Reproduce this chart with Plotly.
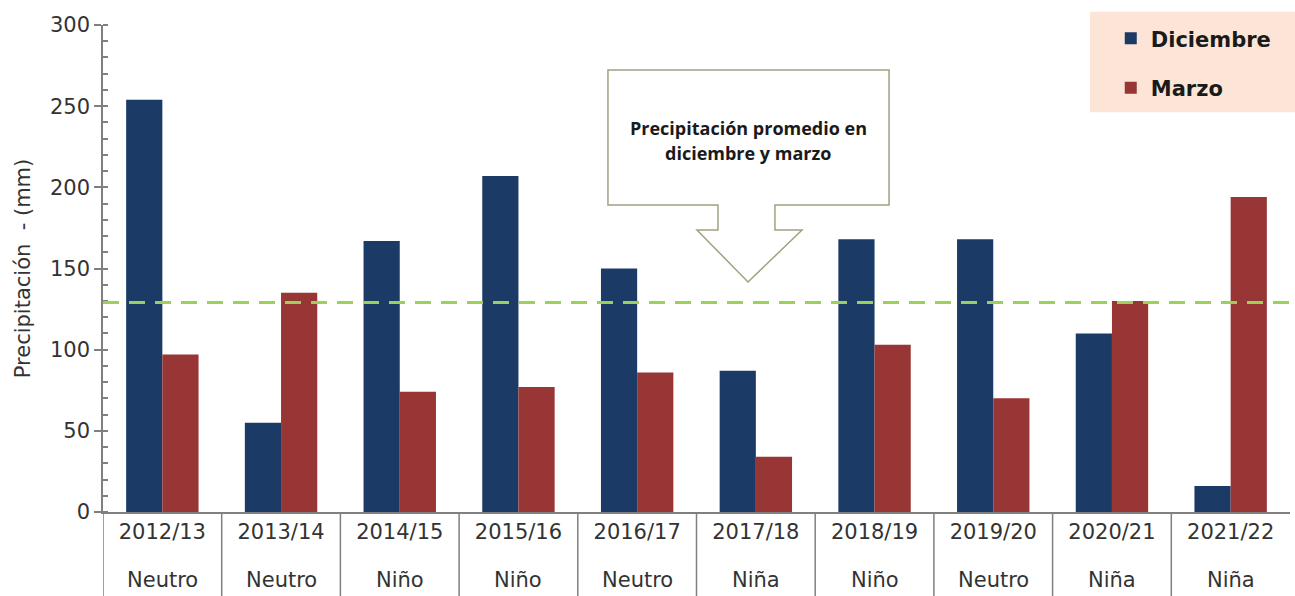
import plotly.graph_objects as go

temporadas = ["2012/13", "2013/14", "2014/15", "2015/16", "2016/17",
              "2017/18", "2018/19", "2019/20", "2020/21", "2021/22"]
fases = ["Neutro", "Neutro", "Niño", "Niño", "Neutro",
         "Niña", "Niño", "Neutro", "Niña", "Niña"]
diciembre = [254, 55, 167, 207, 150, 87, 168, 168, 110, 16]
marzo = [97, 135, 74, 77, 86, 34, 103, 70, 130, 194]
promedio = 129
y_ticks = [0, 50, 100, 150, 200, 250, 300]
callout_lines = ["Precipitación promedio en", "diciembre y marzo"]

x_idx = list(range(len(temporadas)))

C_DIC = "#1B3A66"
C_MAR = "#973634"
FONT = "DejaVu Sans"

fig = go.Figure()
fig.add_trace(go.Bar(x=x_idx, y=diciembre, name="Diciembre", marker_color=C_DIC,
                     marker_line_width=0, legendgroup="d"))
fig.add_trace(go.Bar(x=x_idx, y=marzo, name="Marzo", marker_color=C_MAR,
                     marker_line_width=0, legendgroup="m"))

shapes = []
# legend background
shapes.append(dict(type="rect", xref="paper", yref="paper",
                   x0=0.8315, x1=1.01, y0=0.821, y1=1.027,
                   fillcolor="#FCE5D6", line_width=0, layer="below"))
# average line
shapes.append(dict(type="line", xref="paper", yref="y", x0=0, x1=1,
                   y0=promedio, y1=promedio,
                   line=dict(color="#9BD05A", width=3, dash="16px,10px")))
# category separators below axis
for i in range(len(temporadas)):
    shapes.append(dict(type="line", xref="x", yref="paper",
                       x0=i - 0.5, x1=i - 0.5, y0=0, y1=-0.175,
                       line=dict(color="#808080", width=1.5)))

# callout arrow box (paper coords)
pts = [(0.4254, 0.9076), (0.6622, 0.9076), (0.6622, 0.6304),
       (0.5661, 0.6304), (0.5661, 0.5791), (0.5889, 0.5791),
       (0.5434, 0.4723), (0.5004, 0.5791), (0.5181, 0.5791),
       (0.5181, 0.6304), (0.4254, 0.6304)]
path = "M " + " L ".join(f"{x},{y}" for x, y in pts) + " Z"
shapes.append(dict(type="path", xref="paper", yref="paper", path=path,
                   fillcolor="white", line=dict(color="#A3A17F", width=1.5),
                   layer="above"))

annotations = []
for line, ypos in zip(callout_lines, [0.788, 0.738]):
    annotations.append(dict(xref="paper", yref="paper", x=0.5438, y=ypos,
                            xanchor="center", yanchor="middle",
                            text=line, showarrow=False,
                            font=dict(family="Open Sans", size=18, color="#1a1a1a",
                                      weight="bold")))
# second row of category labels (ENSO phase)
for i, f in zip(x_idx, fases):
    annotations.append(dict(xref="x", yref="paper", x=i, y=-0.14,
                            xanchor="center", yanchor="middle",
                            text=f, showarrow=False,
                            font=dict(family=FONT, size=21, color="#333333")))

fig.update_layout(
    width=1295, height=596,
    margin=dict(l=103, r=5, t=25, b=84, autoexpand=False),
    plot_bgcolor="white", paper_bgcolor="white",
    barmode="group", bargap=0.39, bargroupgap=0,
    shapes=shapes,
    showlegend=True,
    legend=dict(x=0.849, xanchor="left", y=1.014, yanchor="top",
                bgcolor="rgba(0,0,0,0)", tracegroupgap=19,
                font=dict(family=FONT, size=21, color="#1a1a1a", weight="bold")),
    annotations=annotations,
)

fig.update_xaxes(
    type="linear", range=[-0.5, 9.5], automargin=False,
    tickmode="array", tickvals=x_idx, ticktext=temporadas,
    ticks="", showgrid=False, zeroline=False,
    showline=True, linecolor="#808080", linewidth=1.5,
    tickfont=dict(family=FONT, size=21, color="#333333"),
)
fig.update_yaxes(
    range=[0, 300], tickmode="array", tickvals=y_ticks, automargin=False,
    ticks="outside", ticklen=7, tickcolor="#808080", tickwidth=1.5,
    minor=dict(ticks="inside", ticklen=5, dtick=10, tickcolor="#808080", tickwidth=1.5),
    showgrid=False, zeroline=False,
    showline=True, linecolor="#808080", linewidth=1.5,
    tickfont=dict(family=FONT, size=21, color="#333333"),
    title=dict(text="Precipitación  - (mm)", standoff=14,
               font=dict(family=FONT, size=21, color="#333333")),
)

fig.write_html("out.html", config={"displayModeBar": False},
               post_script="document.body.style.margin='0';")
